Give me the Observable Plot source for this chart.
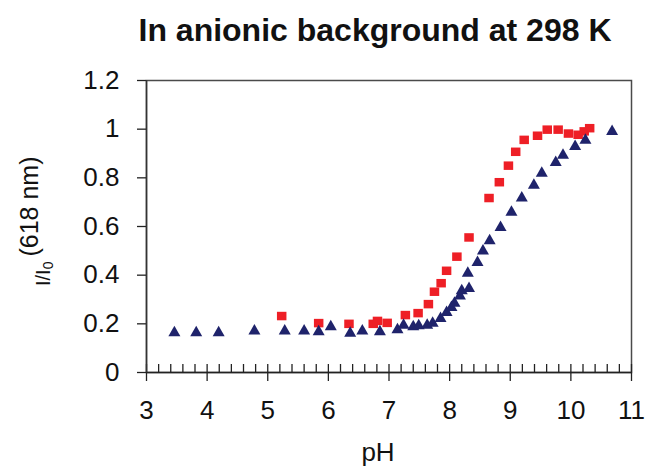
<!DOCTYPE html>
<html>
<head>
<meta charset="utf-8">
<script src="https://cdn.jsdelivr.net/npm/d3@7"></script>
<script src="https://cdn.jsdelivr.net/npm/@observablehq/plot@0.6"></script>
<style>
  html, body { margin: 0; padding: 0; background: white; }
</style>
</head>
<body>
<div id="chart"></div>
<script>
// Triangles (navy series)
const trianglePH = [3.46, 3.82, 4.19, 4.78, 5.28, 5.60, 5.84, 6.04, 6.36, 6.56, 6.85, 7.14, 7.24, 7.40, 7.49, 7.63, 7.72, 7.85, 7.95, 8.03, 8.08, 8.17, 8.20, 8.30, 8.32, 8.46, 8.55, 8.66, 8.84, 9.02, 9.19, 9.39, 9.52, 9.75, 9.87, 10.07, 10.24, 10.68];
const triangleI  = [0.171, 0.171, 0.171, 0.178, 0.178, 0.178, 0.175, 0.195, 0.169, 0.178, 0.175, 0.183, 0.201, 0.195, 0.199, 0.201, 0.210, 0.229, 0.254, 0.274, 0.292, 0.322, 0.343, 0.415, 0.352, 0.459, 0.507, 0.549, 0.603, 0.666, 0.724, 0.777, 0.826, 0.870, 0.900, 0.936, 0.962, 0.998];
// Squares (red series)
const squarePH = [5.23, 5.84, 6.34, 6.74, 6.81, 6.97, 7.27, 7.48, 7.65, 7.75, 7.86, 7.95, 8.12, 8.32, 8.65, 8.82, 8.97, 9.09, 9.23, 9.45, 9.61, 9.79, 9.96, 10.12, 10.22, 10.31];
const squareI  = [0.232, 0.203, 0.200, 0.200, 0.212, 0.204, 0.236, 0.244, 0.281, 0.332, 0.367, 0.418, 0.476, 0.555, 0.717, 0.782, 0.850, 0.907, 0.956, 0.973, 0.998, 0.998, 0.982, 0.977, 0.991, 1.004];

const xTicks = [3, 4, 5, 6, 7, 8, 9, 10, 11];
const yTicks = [0, 0.2, 0.4, 0.6, 0.8, 1, 1.2];
const yTickLabels = ["0", "0.2", "0.4", "0.6", "0.8", "1", "1.2"];
const xMinorTicks = d3.range(0, 41).map(i => 3 + i * 0.2);

const titleText = "In anionic background at 298 K";
const xLabel = "pH";

const navy = "#1f236b";
const red = "#ee1f26";

const triData = trianglePH.map((x, i) => ({x, y: triangleI[i]}));
const sqData = squarePH.map((x, i) => ({x, y: squareI[i]}));

const triangleSym = {
  draw(ctx) {
    const w = 12, h = 10.5;
    ctx.moveTo(0, -h / 2);
    ctx.lineTo(w / 2, h / 2);
    ctx.lineTo(-w / 2, h / 2);
    ctx.closePath();
  }
};
const squareSym = {
  draw(ctx) {
    const w = 9.5, h = 8.5;
    ctx.rect(-w / 2, -h / 2, w, h);
  }
};

const font = "'Liberation Sans', Arial, sans-serif";

const plot = Plot.plot({
  width: 645,
  height: 469,
  marginLeft: 146,
  marginRight: 14,
  marginTop: 80,
  marginBottom: 97,
  style: {fontFamily: font, background: "white", color: "#111"},
  x: {domain: [3, 11]},
  y: {domain: [0, 1.2]},
  marks: [
    Plot.frame({stroke: "#4a4a4a", strokeWidth: 1.5}),
    Plot.tickX(xMinorTicks, {x: d => d, insetTop: 284, stroke: "#222", strokeWidth: 1.3}),
    Plot.axisX({ticks: xTicks, tickSize: 9, tickPadding: 19, fontSize: 26, label: null, stroke: "#222", strokeWidth: 1.3, tickFormat: d => String(d)}),
    Plot.axisY({ticks: yTicks, tickSize: 9, tickPadding: 18, fontSize: 26, label: null, stroke: "#222", strokeWidth: 1.3, tickFormat: (d, i) => yTickLabels[i]}),
    Plot.ruleY([0], {stroke: "#222", strokeWidth: 1.5}),
    Plot.ruleX([3], {stroke: "#333", strokeWidth: 1.5}),
    Plot.dot(sqData, {x: "x", y: "y", symbol: squareSym, fill: red, stroke: "none", r: 5}),
    Plot.dot(triData, {x: "x", y: "y", symbol: triangleSym, fill: navy, stroke: "none", r: 5})
  ]
});

const svg = d3.select(plot);
svg.append("text")
  .attr("x", 375).attr("y", 41)
  .attr("text-anchor", "middle")
  .attr("font-family", font)
  .attr("font-weight", "bold")
  .attr("font-size", 32)
  .attr("fill", "#111")
  .text(titleText);

svg.append("text")
  .attr("x", 378).attr("y", 461)
  .attr("text-anchor", "middle")
  .attr("font-family", font)
  .attr("font-size", 26)
  .attr("fill", "#111")
  .text(xLabel);

const yl = svg.append("text")
  .attr("transform", "translate(50,286) rotate(-90)")
  .attr("text-anchor", "start")
  .attr("font-family", font)
  .attr("fill", "#111");
yl.append("tspan").attr("font-size", 20).text("I/I");
yl.append("tspan").attr("font-size", 14).attr("dy", 3).text("0");
yl.append("tspan").attr("font-size", 25).attr("dx", 5).attr("dy", -15).text("(618 nm)");

document.getElementById("chart").appendChild(plot);
</script>
</body>
</html>
